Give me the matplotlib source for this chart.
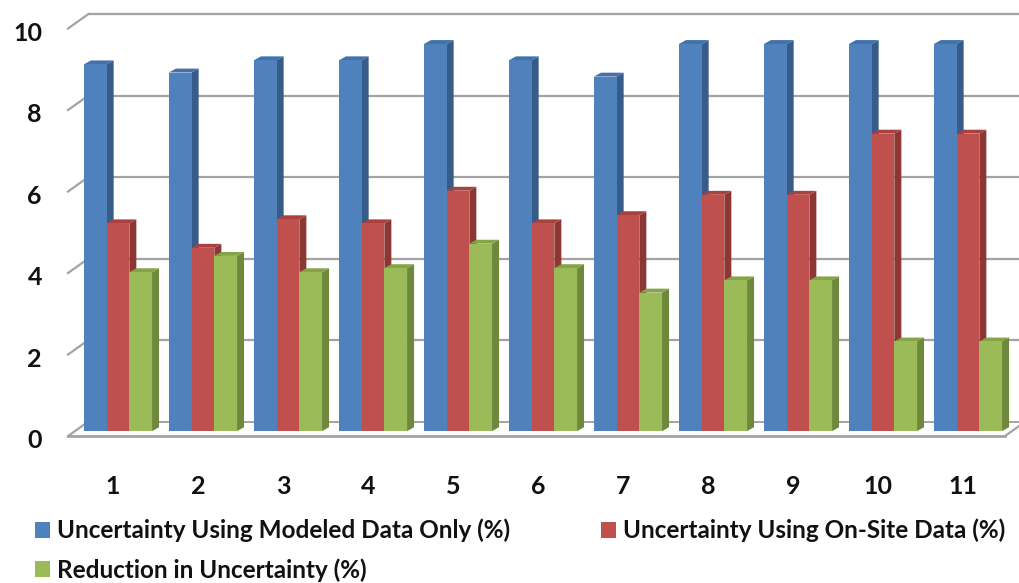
import matplotlib
matplotlib.use("Agg")
import matplotlib.pyplot as plt
from matplotlib.patches import Polygon, Patch

# ---- data -------------------------------------------------------------
categories = ["1", "2", "3", "4", "5", "6", "7", "8", "9", "10", "11"]
modeled_only = [9.0, 8.8, 9.1, 9.1, 9.5, 9.1, 8.7, 9.5, 9.5, 9.5, 9.5]
on_site = [5.1, 4.5, 5.2, 5.1, 5.9, 5.1, 5.3, 5.8, 5.8, 7.3, 7.3]
reduction = [3.9, 4.3, 3.9, 4.0, 4.6, 4.0, 3.4, 3.7, 3.7, 2.2, 2.2]
series_labels = [
    "Uncertainty Using Modeled Data Only (%)",
    "Uncertainty Using On-Site Data (%)",
    "Reduction in Uncertainty (%)",
]
y_ticks = [0, 2, 4, 6, 8, 10]

# face colours: front, side, top
styles = [
    ("#4F81BD", "#375C8A", "#4271AC"),
    ("#C0504D", "#8C3734", "#A9423F"),
    ("#9BBB59", "#6E893B", "#84A447"),
]

FONT = ["Lato", "DejaVu Sans"]
plt.rcParams["font.family"] = FONT
plt.rcParams["font.weight"] = "bold"

W, H, DPI = 1020, 583, 100
fig = plt.figure(figsize=(W / DPI, H / DPI), dpi=DPI)

# pixel geometry of the chart
PX_CAT = 85.0      # pixels between category groups
PX_UNIT = 41.5     # pixels per value unit
LEFT_PX, RIGHT_PX = 50, 1020
BASE_PX = 439      # baseline of the bars, from the top
X0_PX = 118        # centre of the first group
TOP_VAL = 10.5

ax = fig.add_axes([LEFT_PX / W, (H - BASE_PX) / H,
                   (RIGHT_PX - LEFT_PX) / W, TOP_VAL * PX_UNIT / H])
ax.set_xlim((LEFT_PX - X0_PX) / PX_CAT, (RIGHT_PX - X0_PX) / PX_CAT)
ax.set_ylim(0, TOP_VAL)
for s in ax.spines.values():
    s.set_visible(False)
ax.patch.set_visible(False)

def px_x(p):
    return p / PX_CAT

def px_y(p):
    return p / PX_UNIT

# 3-D offsets (pixels) relative to the plane of the bar fronts
front_dx, front_dy = -7, -5     # front plane
back_dx, back_dy = 13, 9.5      # back wall
depth_dx, depth_dy = 7, 4       # depth of each bar

grid_col = "#A3A3A3"
x_left_front = px_x(68 - X0_PX)
x_left_back = px_x(88 - X0_PX)
x_right = px_x(RIGHT_PX - X0_PX) + 0.5

# back wall gridlines and their slanted stubs on the side wall
for v in y_ticks:
    yb = v + px_y(back_dy)
    yf = v + px_y(front_dy)
    ax.plot([x_left_back, x_right], [yb, yb], color=grid_col,
            lw=1.6 if v > 0 else 1.4, clip_on=False, zorder=1,
            solid_capstyle="butt")
    ax.plot([x_left_front, x_left_back], [yf, yb], color=grid_col, lw=1.6,
            clip_on=False, zorder=1)

# floor front edge and right slant
floor_right_front = px_x(1005 - X0_PX)
ax.plot([x_left_front, floor_right_front], [px_y(front_dy), px_y(front_dy)],
        color=grid_col, lw=2.0, clip_on=False, zorder=1)
ax.plot([floor_right_front, floor_right_front + px_x(20)],
        [px_y(front_dy), px_y(back_dy)], color=grid_col, lw=1.6,
        clip_on=False, zorder=1)

# bars
n = len(categories)
bar_w = 22.7 / PX_CAT
ddx, ddy = px_x(depth_dx), px_y(depth_dy)
series = [modeled_only, on_site, reduction]
offsets = [-bar_w, 0.0, bar_w]
z = 3
for i in range(n):
    for k, vals in enumerate(series):
        front, side, top = styles[k]
        xc = i + offsets[k]
        x0, x1 = xc - bar_w / 2, xc + bar_w / 2
        v = vals[i]
        ax.add_patch(Polygon([(x1, 0), (x1 + ddx, ddy), (x1 + ddx, v + ddy), (x1, v)],
                             closed=True, facecolor=side, edgecolor="none",
                             zorder=z, clip_on=False))
        ax.add_patch(Polygon([(x0, v), (x1, v), (x1 + ddx, v + ddy), (x0 + ddx, v + ddy)],
                             closed=True, facecolor=top, edgecolor="none",
                             zorder=z, clip_on=False))
        ax.bar(xc, v, width=bar_w, color=front, edgecolor="none",
               zorder=z + 0.5, clip_on=False)
        z += 1

# axis labels sit on the front plane
label_dy = -8
ax.set_yticks([v + px_y(label_dy) for v in y_ticks])
ax.set_yticklabels([str(v) for v in y_ticks])
ax.set_xticks([i + px_x(-5) for i in range(n)])
ax.set_xticklabels(categories)
ax.tick_params(axis="y", length=0, pad=5.8, labelsize=18, labelcolor="#111111")
ax.tick_params(axis="x", length=0, pad=26, labelsize=18, labelcolor="#111111")
for lab in ax.get_xticklabels() + ax.get_yticklabels():
    lab.set_fontweight("bold")

# legend
handles = [Patch(facecolor=styles[0][0], edgecolor="none"),
           Patch(facecolor=styles[2][0], edgecolor="none"),
           Patch(facecolor=styles[1][0], edgecolor="none")]
labels = [series_labels[0], series_labels[2], series_labels[1]]
fig.legend(handles, labels, loc="upper left",
           bbox_to_anchor=(30 / W, 1 - 514 / H), ncol=2, frameon=False,
           prop={"family": FONT, "weight": "bold", "size": 17.5},
           handlelength=0.62, handleheight=0.62, handletextpad=0.29,
           columnspacing=3.75, labelspacing=0.64, borderpad=0.2,
           borderaxespad=0, labelcolor="#111111")

fig.savefig("out.png", dpi=DPI)
